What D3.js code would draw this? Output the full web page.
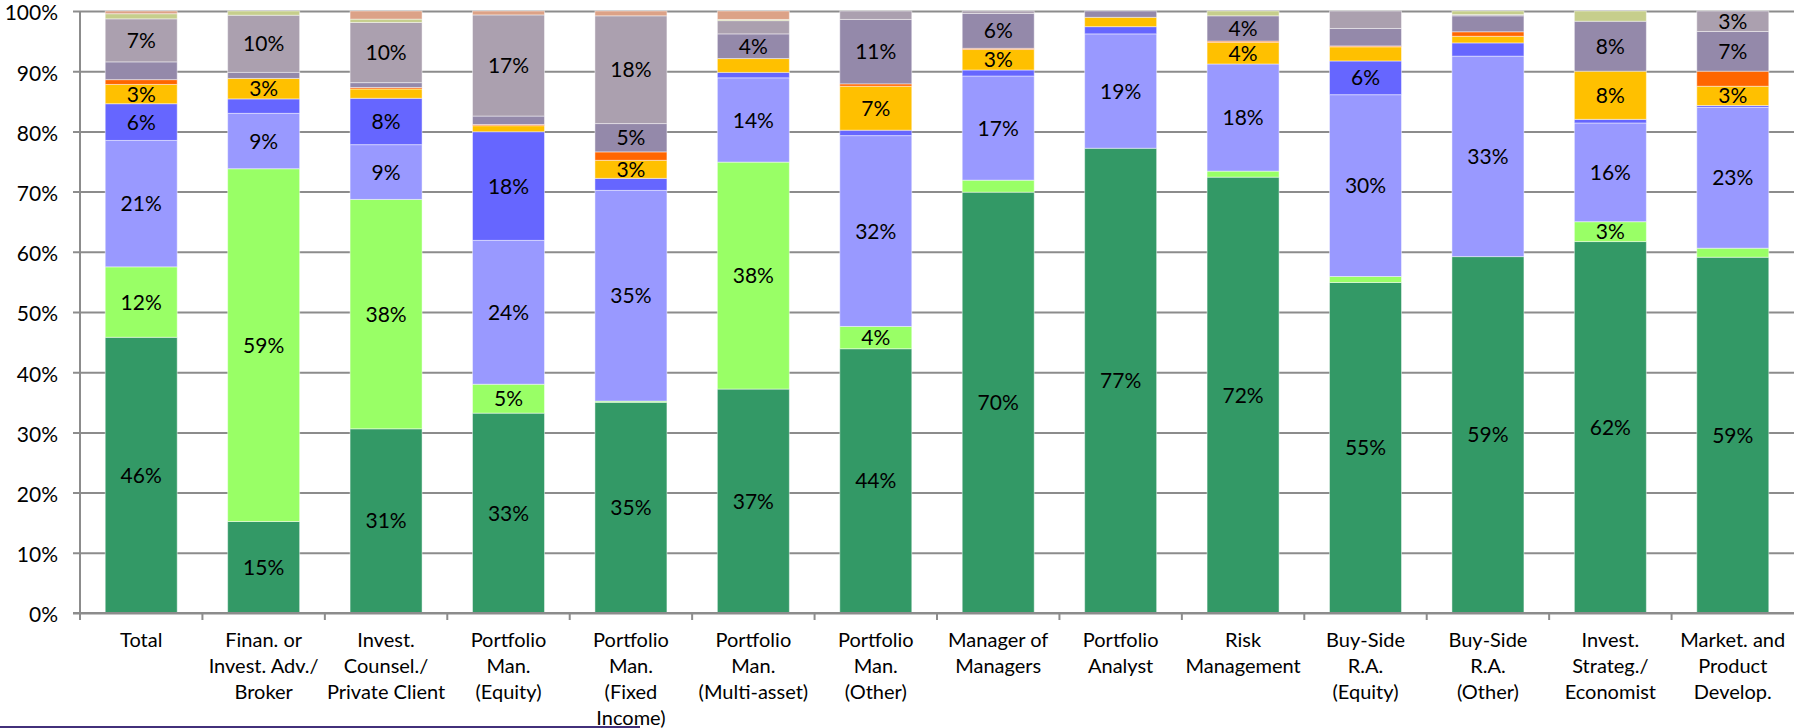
<!DOCTYPE html>
<html>
<head>
<meta charset="utf-8">
<script src="https://cdnjs.cloudflare.com/ajax/libs/d3/7.8.5/d3.min.js"></script>
<style>
	html, body { margin: 0; padding: 0; background: #fff; }
	svg { display: block; }
	text { font-family: Lato, "Open Sans", sans-serif; }
</style>
</head>
<body>
<div id="chart"></div>
<script>
// categories (x labels, already wrapped)
var categories = [
	["Total"],
	["Finan. or", "Invest. Adv./", "Broker"],
	["Invest.", "Counsel./", "Private Client"],
	["Portfolio", "Man.", "(Equity)"],
	["Portfolio", "Man.", "(Fixed", "Income)"],
	["Portfolio", "Man.", "(Multi-asset)"],
	["Portfolio", "Man.", "(Other)"],
	["Manager of", "Managers"],
	["Portfolio", "Analyst"],
	["Risk", "Management"],
	["Buy-Side", "R.A.", "(Equity)"],
	["Buy-Side", "R.A.", "(Other)"],
	["Invest.", "Strateg./", "Economist"],
	["Market. and", "Product", "Develop."]
];

// series, bottom to top, % share per category
var seriesGreen  = [45.8, 15.2, 30.6, 33.2, 35.0, 37.2, 43.9, 69.9, 77.2, 72.4, 54.9, 59.2, 61.7, 59.1];
var seriesLime   = [11.7, 58.6, 38.1, 4.8, 0.2, 37.7, 3.7, 2.0, 0, 1.0, 1.0, 0, 3.3, 1.5];
var seriesPeri   = [21.0, 9.2, 9.1, 23.9, 35.0, 14.0, 31.7, 17.3, 19.0, 17.8, 30.2, 33.3, 16.4, 23.4];
var seriesBlue   = [6.1, 2.4, 7.7, 18.05, 2.0, 0.9, 0.9, 1.0, 1.2, 0, 5.6, 2.2, 0.6, 0.3];
var seriesGold   = [3.2, 3.4, 1.55, 1.0, 3.0, 2.3, 7.3, 3.4, 1.55, 3.6, 2.35, 1.1, 8.0, 3.2];
var seriesOrange = [0.8, 0, 0.25, 0.2, 1.4, 0, 0.4, 0.2, 0, 0.2, 0.15, 0.75, 0, 2.5];
var seriesPurple = [2.95, 1.0, 0.8, 1.4, 4.7, 4.1, 10.7, 5.8, 1.05, 4.2, 2.9, 2.65, 8.3, 6.6];
var seriesMauve  = [7.15, 9.5, 10.0, 16.8, 17.9, 2.2, 1.4, 0.4, 0, 0, 2.9, 0.2, 0, 3.4];
var seriesKhaki  = [0.85, 0.7, 0.55, 0, 0, 0.2, 0, 0, 0, 0.8, 0, 0.6, 1.7, 0];
var seriesSalmon = [0.45, 0, 1.35, 0.65, 0.8, 1.4, 0, 0, 0, 0, 0, 0, 0, 0];

var yTicks = [0, 10, 20, 30, 40, 50, 60, 70, 80, 90, 100];

var seriesList = [
	{ key: "green", values: seriesGreen, color: "#339966" },
	{ key: "lime", values: seriesLime, color: "#99ff66" },
	{ key: "peri", values: seriesPeri, color: "#9999ff" },
	{ key: "blue", values: seriesBlue, color: "#6666ff" },
	{ key: "gold", values: seriesGold, color: "#ffc000" },
	{ key: "orange", values: seriesOrange, color: "#ff6600" },
	{ key: "purple", values: seriesPurple, color: "#9489aa" },
	{ key: "mauve", values: seriesMauve, color: "#aba0af" },
	{ key: "khaki", values: seriesKhaki, color: "#c6ce8c" },
	{ key: "salmon", values: seriesSalmon, color: "#dca287" }
];

var W = 1794, H = 728;
var plotLeft = 80, plotRight = 1794, plotTop = 11, plotBottom = 613;
var gridColor = "#8c8c8c";
var fontPx = "21px";

// rows for d3.stack
var rows = categories.map(function(c, i) {
	var row = { idx: i };
	seriesList.forEach(function(s) { row[s.key] = s.values[i]; });
	return row;
});

var stack = d3.stack().keys(seriesList.map(function(s) { return s.key; }));
var layers = stack(rows);

var x = d3.scaleBand()
	.domain(d3.range(categories.length))
	.range([plotLeft, plotRight])
	.paddingInner(0.412)
	.paddingOuter(0.206);

var y = d3.scaleLinear().domain([0, 100]).range([plotBottom, plotTop]);

var svg = d3.select("#chart").append("svg")
	.attr("width", W)
	.attr("height", H);

// gridlines + y labels
var yAxis = d3.axisLeft(y)
	.tickValues(yTicks)
	.tickSize(-(plotRight - plotLeft))
	.tickFormat(function(d) { return d + "%"; });

var gy = svg.append("g")
	.attr("transform", "translate(" + plotLeft + ",0)")
	.call(yAxis);
gy.select(".domain").remove();
gy.selectAll(".tick line")
	.attr("x1", -7)
	.attr("stroke", gridColor)
	.attr("stroke-width", 2);
gy.selectAll(".tick text")
	.attr("x", -22)
	.attr("dy", "0.42em")
	.attr("fill", "#000")
	.style("font-size", fontPx);

// y axis line
svg.append("line")
	.attr("x1", plotLeft).attr("x2", plotLeft)
	.attr("y1", plotTop).attr("y2", plotBottom + 7)
	.attr("stroke", gridColor)
	.attr("stroke-width", 2);

// bars
var layerG = svg.selectAll("g.layer")
	.data(layers)
	.enter().append("g")
	.attr("class", "layer")
	.attr("fill", function(d, i) { return seriesList[i].color; });

layerG.selectAll("rect")
	.data(function(d) { return d; })
	.enter().append("rect")
	.attr("x", function(d) { return x(d.data.idx); })
	.attr("width", x.bandwidth())
	.attr("y", function(d) { return y(d[1]); })
	.attr("height", function(d) { return Math.max(0, y(d[0]) - y(d[1])); })
	.attr("stroke", "rgba(255,255,255,0.45)")
	.attr("stroke-width", 1);

// data labels (only the bigger segments carry one)
layerG.selectAll("text")
	.data(function(d) { return d.filter(function(p) { return p[1] - p[0] >= 3; }); })
	.enter().append("text")
	.attr("x", function(d) { return x(d.data.idx) + x.bandwidth() / 2; })
	.attr("y", function(d) { return (y(d[0]) + y(d[1])) / 2; })
	.attr("dy", "0.36em")
	.attr("text-anchor", "middle")
	.attr("fill", "#000")
	.style("font-size", fontPx)
	.text(function(d) { return Math.round(d[1] - d[0]) + "%"; });

// x axis line + ticks between categories
svg.append("line")
	.attr("x1", plotLeft - 7).attr("x2", plotRight)
	.attr("y1", plotBottom).attr("y2", plotBottom)
	.attr("stroke", gridColor)
	.attr("stroke-width", 2);

svg.selectAll("line.xtick")
	.data(d3.range(categories.length))
	.enter().append("line")
	.attr("class", "xtick")
	.attr("x1", function(i) { return x(i) - x.step() * x.paddingOuter(); })
	.attr("x2", function(i) { return x(i) - x.step() * x.paddingOuter(); })
	.attr("y1", plotBottom)
	.attr("y2", plotBottom + 7)
	.attr("stroke", gridColor)
	.attr("stroke-width", 2);

// category labels
var catText = svg.selectAll("text.cat")
	.data(categories)
	.enter().append("text")
	.attr("class", "cat")
	.attr("text-anchor", "middle")
	.attr("fill", "#000")
	.style("font-size", "20px")
	.attr("transform", function(d, i) {
		return "translate(" + (x(i) + x.bandwidth() / 2) + "," + 647 + ")";
	});
catText.selectAll("tspan")
	.data(function(d) { return d; })
	.enter().append("tspan")
	.attr("x", 0)
	.attr("y", function(d, j) { return j * 26; })
	.text(function(d) { return d; });

// thin frame line at the bottom edge
svg.append("rect")
	.attr("x", 0).attr("y", 726)
	.attr("width", 640).attr("height", 2)
	.attr("fill", "#42307a");
</script>
</body>
</html>
